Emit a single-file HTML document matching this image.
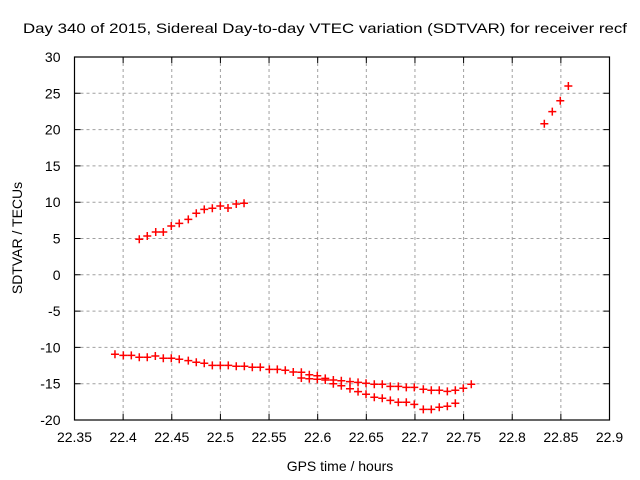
<!DOCTYPE html>
<html><head><meta charset="utf-8"><style>
html,body{margin:0;padding:0;background:#fff}
svg{display:block}
text{font-family:"Liberation Sans",sans-serif;fill:#000}
</style></head><body>
<svg id="chart" width="640" height="480" viewBox="0 0 640 480" xmlns="http://www.w3.org/2000/svg">
<rect width="640" height="480" fill="#fff"/>
<text x="325" y="33" font-size="14" text-anchor="middle" textLength="604" lengthAdjust="spacingAndGlyphs">Day 340 of 2015, Sidereal Day-to-day VTEC variation (SDTVAR) for receiver recf</text>
<g id="grid"></g>
<g id="axes"></g>
<g id="marks"></g>
<text x="340" y="471" font-size="14" text-anchor="middle">GPS time / hours</text>
<text transform="translate(22,238) rotate(-90)" font-size="14" text-anchor="middle">SDTVAR / TECUs</text>
</svg>
<script>
const xTicks = [22.35,22.4,22.45,22.5,22.55,22.6,22.65,22.7,22.75,22.8,22.85,22.9];
const xTickLabels = ["22.35","22.4","22.45","22.5","22.55","22.6","22.65","22.7","22.75","22.8","22.85","22.9"];
const yTicks = [30,25,20,15,10,5,0,-5,-10,-15,-20];
const yTickLabels = ["30","25","20","15","10","5","0","-5","-10","-15","-20"];

const timesA = [22.3916,22.4002,22.4084,22.4166,22.4248,22.4331,22.4413,22.4495,22.4577,22.467,22.4752,22.4834,22.4917,22.4999,22.5081,22.5163,22.5246,22.5328,22.541,22.5503,22.5585,22.5667,22.5749,22.5832,22.5914,22.5996,22.6078,22.6161,22.6243,22.6332,22.6415,22.6497,22.6582,22.6664,22.6747,22.6829,22.6911,22.6993,22.7086,22.7168,22.725,22.7333,22.7415,22.7497,22.7579];
const valuesA = [-10.95,-11.09,-11.09,-11.36,-11.36,-11.18,-11.5,-11.5,-11.64,-11.83,-12.05,-12.19,-12.47,-12.47,-12.47,-12.6,-12.6,-12.74,-12.74,-13.02,-13.02,-13.15,-13.39,-13.43,-13.76,-13.9,-14.26,-14.49,-14.59,-14.72,-14.81,-14.94,-15.08,-15.08,-15.36,-15.36,-15.5,-15.5,-15.77,-15.91,-15.91,-16.05,-15.91,-15.63,-15.08];
const timesB = [22.5832,22.5914,22.5996,22.6078,22.6161,22.6243,22.6332,22.6415,22.6497,22.6582,22.6664,22.6747,22.6829,22.6911,22.6993,22.7086,22.7168,22.725,22.7333,22.7415];
const valuesB = [-14.21,-14.31,-14.39,-14.49,-15.0,-15.28,-15.69,-16.1,-16.46,-16.87,-17.01,-17.29,-17.56,-17.56,-17.84,-18.53,-18.53,-18.25,-18.11,-17.7];
const timesC = [22.4166,22.4248,22.4335,22.4413,22.4495,22.4577,22.467,22.4752,22.4834,22.4917,22.4999,22.5078,22.5163,22.5243];
const valuesC = [4.89,5.34,5.9,5.9,6.72,7.09,7.64,8.47,9.02,9.16,9.48,9.2,9.75,9.85];
const timesD = [22.833,22.8412,22.8494,22.8577];
const valuesD = [20.81,22.47,23.98,26.0];

const L=74.5,R=609.5,T=57,B=420;
const xMin=22.35,xMax=22.9,yMin=-20,yMax=30;
function sx(v){return L+(v-xMin)/(xMax-xMin)*(R-L);}
function sy(v){return B-(v-yMin)/(yMax-yMin)*(B-T);}
const NS="http://www.w3.org/2000/svg";
function mk(tag,attrs,parent){const e=document.createElementNS(NS,tag);for(const k in attrs)e.setAttribute(k,attrs[k]);parent.appendChild(e);return e;}
const grid=document.getElementById('grid'),axes=document.getElementById('axes'),marks=document.getElementById('marks');

xTicks.forEach((t,i)=>{
  const x=sx(t);
  if(i>0&&i<xTicks.length-1){
    const g=mk('line',{x1:x,x2:x,y1:T,y2:B,stroke:'#a0a0a0','stroke-width':1,'stroke-dasharray':'3,3'},grid);
    
    
  }
  const tk=mk('path',{d:`M${x},${B}v-6M${x},${T}v6`,stroke:'#000','stroke-width':1},axes);
  
  
  const lb=mk('text',{x:x,y:B+22,'font-size':14,'text-anchor':'middle'},axes);
  lb.textContent=xTickLabels[i];
  
  
});
yTicks.forEach((t,i)=>{
  const y=sy(t);
  if(i>0&&i<yTicks.length-1){
    const g=mk('line',{x1:L,x2:R,y1:y,y2:y,stroke:'#a0a0a0','stroke-width':1,'stroke-dasharray':'3,3'},grid);
    
    
  }
  const tk=mk('path',{d:`M${L},${y}h6M${R},${y}h-6`,stroke:'#000','stroke-width':1},axes);
  
  
  const lb=mk('text',{x:L-14,y:y+5,'font-size':14,'text-anchor':'end'},axes);
  lb.textContent=yTickLabels[i];
  
  
});
const frame=mk('rect',{x:L,y:T,width:R-L,height:B-T,fill:'none',stroke:'#000','stroke-width':1.2},axes);



function drawSeries(xs,ys,name){
  xs.forEach((xv,i)=>{
    const x=sx(xv),y=sy(ys[i]);
    const p=mk('path',{d:`M${x-4},${y}h8M${x},${y-4}v8`,stroke:'#ff0000','stroke-width':1.5},marks);
    
    
  });
}
drawSeries(timesA,valuesA,'point-series-a');
drawSeries(timesB,valuesB,'point-series-b');
drawSeries(timesC,valuesC,'point-series-c');
drawSeries(timesD,valuesD,'point-series-d');
</script>
</body></html>
